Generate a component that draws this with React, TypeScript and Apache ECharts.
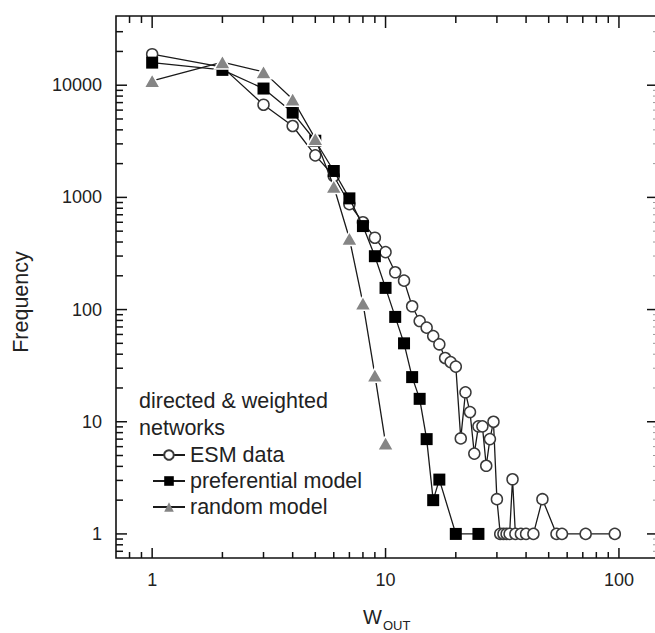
import React, { useEffect, useRef } from "react";
import * as echarts from "echarts";

// ---- data ----
const esmW = [1, 2, 3, 4, 5, 6, 7, 8, 9, 10, 11, 12, 13, 14, 15, 16, 17, 18, 19, 20, 21, 22, 23, 24, 25, 26, 27, 28, 29, 30, 31, 32, 33, 34, 35, 36, 38, 40, 43, 47, 54, 57, 72, 96];
const esmF = [18900, 14500, 6700, 4330, 2370, 1550, 870, 600, 437, 325, 215, 181, 107, 79, 69, 58, 49, 37, 34, 31, 7.1, 18.3, 12.2, 5.2, 9.1, 9.1, 4.05, 7.0, 10, 2.04, 1, 1, 1, 1, 3.07, 1, 1, 1, 1, 2.04, 1, 1, 1, 1];

const prefW = [1, 2, 3, 4, 5, 6, 7, 8, 9, 10, 11, 12, 13, 14, 15, 16, 17, 20, 25];
const prefF = [15900, 13700, 9340, 5700, 3200, 1720, 980, 555, 299, 156, 86, 50, 25, 16, 7, 2, 3.05, 1, 1];

const randW = [1, 2, 3, 4, 5, 6, 7, 8, 9, 10];
const randF = [10950, 16100, 13150, 7500, 3340, 1250, 430, 114, 26, 6.45];

const seriesNames = ["ESM data", "preferential model", "random model"];
const legendHeader = "directed & weighted\nnetworks";
const xName = "W";
const xSub = "OUT";
const yName = "Frequency";

// axis ticks
const xMajorTicks = [1, 10, 100];
const xMinorTicks = [0.8, 0.9, 2, 3, 4, 5, 6, 7, 8, 9, 20, 30, 40, 50, 60, 70, 80, 90];
const yMajorTicks = [1, 10, 100, 1000, 10000];
const yMinorTicks = [0.7, 0.8, 0.9, 2, 3, 4, 5, 6, 7, 8, 9, 20, 30, 40, 50, 60, 70, 80, 90, 200, 300, 400, 500, 600, 700, 800, 900, 2000, 3000, 4000, 5000, 6000, 7000, 8000, 9000, 20000, 30000];

const X_MIN = 0.7;
const X_MAX = 147;
const Y_MIN = 0.61;
const Y_MAX = 41400;

const FONT = '"Liberation Sans", Arial, Helvetica, sans-serif';
const TEXT = "#222";

export default function App() {
  const ref = useRef<HTMLDivElement>(null);

  useEffect(() => {
    if (!ref.current) return;
    const chart = echarts.init(ref.current, undefined, { renderer: "svg" });

    const tickData: number[][] = [];
    xMajorTicks.forEach((v) => tickData.push([v, 1, 0, 1]));
    xMinorTicks.forEach((v) => tickData.push([v, 1, 0, 0]));
    yMajorTicks.forEach((v) => tickData.push([1, v, 1, 1]));
    yMinorTicks.forEach((v) => tickData.push([1, v, 1, 0]));

    const isPow10 = (v: number) => {
      const l = Math.log10(v);
      return Math.abs(l - Math.round(l)) < 1e-6;
    };

    const lineStyle = { color: "#1a1a1a", width: 1.3 };

    chart.setOption({
      animation: false,
      grid: {
        left: 116,
        top: 16,
        right: 7,
        bottom: 75,
        show: true,
        borderColor: "#111",
        borderWidth: 1.6,
        backgroundColor: "transparent",
      },
      xAxis: {
        type: "log",
        logBase: 10,
        min: X_MIN,
        max: X_MAX,
        axisLine: { show: false },
        axisTick: { show: false },
        splitLine: { show: false },
        axisLabel: {
          margin: 13,
          fontSize: 18,
          color: TEXT,
          fontFamily: FONT,
          formatter: (v: number) => (isPow10(v) ? String(Math.round(v)) : ""),
        },
      },
      yAxis: {
        type: "log",
        logBase: 10,
        min: Y_MIN,
        max: Y_MAX,
        axisLine: { show: false },
        axisTick: { show: false },
        splitLine: { show: false },
        axisLabel: {
          margin: 14,
          fontSize: 18,
          color: TEXT,
          fontFamily: FONT,
          formatter: (v: number) => (isPow10(v) ? String(Math.round(v)) : ""),
        },
      },
      legend: {
        orient: "vertical",
        left: 147,
        top: 439,
        itemWidth: 32,
        itemHeight: 12,
        itemGap: 4,
        selectedMode: false,
        textStyle: { fontSize: 21.5, color: TEXT, fontFamily: FONT },
        data: [
          { name: seriesNames[0] },
          { name: seriesNames[1] },
          { name: seriesNames[2], itemStyle: { borderWidth: 0 } },
        ],
      },
      graphic: [
        {
          type: "text",
          left: 139,
          top: 388,
          style: {
            text: legendHeader,
            font: `21.5px ${FONT}`,
            lineHeight: 26.5,
            fill: TEXT,
          },
        },
        {
          type: "text",
          x: 21,
          y: 302,
          rotation: Math.PI / 2,
          style: {
            text: yName,
            font: `21.5px ${FONT}`,
            fill: TEXT,
            align: "center",
            verticalAlign: "middle",
          },
        },
        {
          type: "text",
          x: 363,
          y: 617,
          style: {
            text: xName,
            font: `20px ${FONT}`,
            fill: TEXT,
            align: "left",
            verticalAlign: "middle",
          },
        },
        {
          type: "text",
          x: 383,
          y: 625,
          style: {
            text: xSub,
            font: `13px ${FONT}`,
            fill: TEXT,
            align: "left",
            verticalAlign: "middle",
          },
        },
      ],
      series: [
        {
          name: seriesNames[0],
          type: "line",
          z: 3,
          data: esmW.map((w, i) => [w, esmF[i]]),
          symbol: "circle",
          symbolSize: 11,
          itemStyle: { color: "#ffffff", borderColor: "#3a3a3a", borderWidth: 1.5 },
          lineStyle,
        },
        {
          name: seriesNames[1],
          type: "line",
          z: 4,
          data: prefW.map((w, i) => [w, prefF[i]]),
          symbol: "rect",
          symbolSize: 12,
          itemStyle: { color: "#000000" },
          lineStyle,
        },
        {
          name: seriesNames[2],
          type: "line",
          z: 5,
          data: randW.map((w, i) => [w, randF[i]]),
          symbol: "triangle",
          symbolSize: [16, 14],
          itemStyle: { color: "#858585", borderColor: "#ffffff", borderWidth: 1.5 },
          lineStyle,
        },
        {
          type: "custom",
          z: 10,
          silent: true,
          clip: false,
          data: tickData,
          renderItem: (params: any, api: any) => {
            const kind = api.value(2);
            const major = api.value(3);
            const style = { stroke: "#111", lineWidth: 1.5 };
            if (kind === 0) {
              const v = api.value(0);
              const pb = api.coord([v, Y_MIN]);
              const pt = api.coord([v, Y_MAX]);
              const lb = major ? 10 : 6;
              const lt = major ? 12 : 7;
              return {
                type: "group",
                children: [
                  { type: "line", shape: { x1: pb[0], y1: pb[1], x2: pb[0], y2: pb[1] - lb }, style },
                  { type: "line", shape: { x1: pt[0], y1: pt[1], x2: pt[0], y2: pt[1] + lt }, style },
                ],
              };
            }
            const v = api.value(1);
            const pl = api.coord([X_MIN, v]);
            const pr = api.coord([X_MAX, v]);
            const ll = major ? 11 : 7;
            const lr = major ? 11 : 5;
            return {
              type: "group",
              children: [
                { type: "line", shape: { x1: pl[0], y1: pl[1], x2: pl[0] + ll, y2: pl[1] }, style },
                {
                  type: "line",
                  shape: { x1: pr[0], y1: pr[1], x2: pr[0] - lr, y2: pr[1] },
                  style: major ? style : { stroke: "#999", lineWidth: 1 },
                },
              ],
            };
          },
        },
      ],
    });

    return () => chart.dispose();
  }, []);

  return (
    <div style={{ position: "fixed", left: 0, top: 0, width: 655, height: 633, overflow: "hidden", background: "#fff" }}>
      <div ref={ref} style={{ width: 665, height: 633 }} />
    </div>
  );
}
